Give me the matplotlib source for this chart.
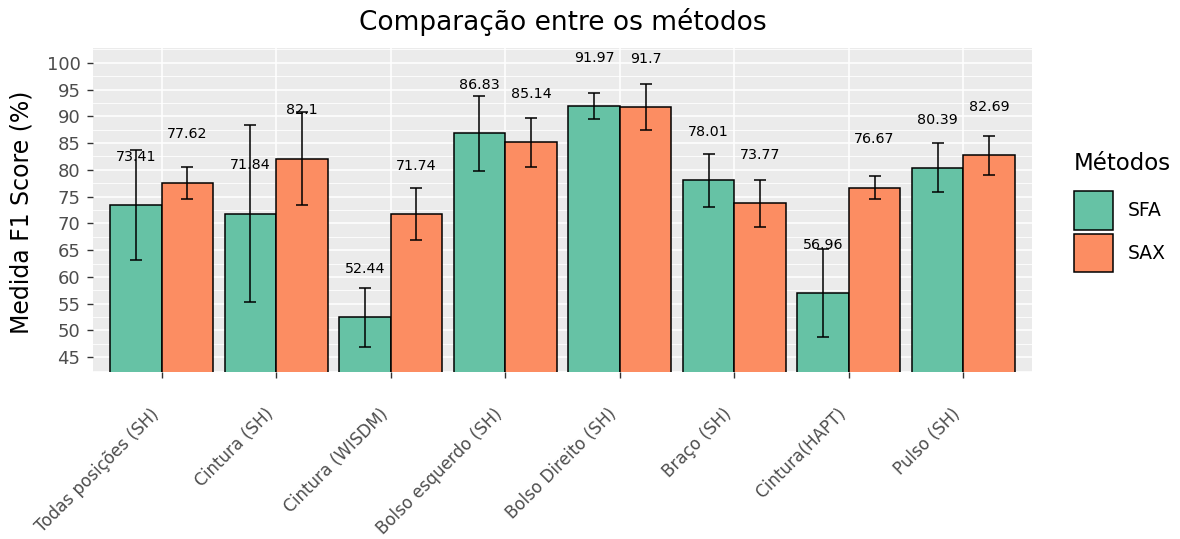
import numpy as np
import matplotlib
matplotlib.use("Agg")
import matplotlib.pyplot as plt
from matplotlib.patches import Patch
from matplotlib.ticker import MultipleLocator
from matplotlib.transforms import ScaledTranslation

# dados
categorias = ["Todas posições (SH)", "Cintura (SH)", "Cintura (WISDM)",
              "Bolso esquerdo (SH)", "Bolso Direito (SH)", "Braço (SH)",
              "Cintura(HAPT)", "Pulso (SH)"]
metodos = ["SFA", "SAX"]
sfa = [73.41, 71.84, 52.44, 86.83, 91.97, 78.01, 56.96, 80.39]
sax = [77.62, 82.1, 71.74, 85.14, 91.7, 73.77, 76.67, 82.69]
sfa_sd = [10.3, 16.6, 5.5, 7.0, 2.4, 4.9, 8.2, 4.6]
sax_sd = [3.0, 8.7, 4.8, 4.6, 4.3, 4.4, 2.2, 3.6]

cores = ["#66C2A5", "#FC8D62"]

plt.rcParams['font.family'] = ['DejaVu Sans']

fig = plt.figure(figsize=(11.8, 5.39), dpi=100)
ax = fig.add_axes([93/1180, 1-372/539, 939/1180, 324/539])
ax.set_facecolor("#EBEBEB")

x = np.arange(len(categorias))
w = 0.45
for i, (vals, sds) in enumerate([(sfa, sfa_sd), (sax, sax_sd)]):
    pos = x + (i - 0.5) * w
    ax.bar(pos, vals, width=w, color=cores[i], edgecolor="black", linewidth=1.1, zorder=3)
    ax.errorbar(pos, vals, yerr=sds, fmt="none", ecolor="black", elinewidth=1.1,
                capsize=4.5, capthick=1.1, zorder=4)
    for p, v in zip(pos, vals):
        ax.text(p, v + 9, f"{v:g}", ha="center", va="center", fontsize=10.3,
                color="black", zorder=5)

ax.set_xlim(-0.6, len(categorias) - 0.4)
ax.set_ylim(42.25, 102.75)
ax.yaxis.set_major_locator(MultipleLocator(5))
ax.yaxis.set_minor_locator(MultipleLocator(2.5))
ax.set_yticks(np.arange(45, 101, 5))
ax.set_xticks(x)
ax.set_xticklabels([])

# rotulos do eixo x desenhados a mao, deslocados como no ggplot
desloc = ScaledTranslation(-0.12, -0.33, fig.dpi_scale_trans)
for xi, nome in zip(x, categorias):
    ax.text(xi, 0, nome, transform=ax.get_xaxis_transform() + desloc,
            rotation=45, ha="right", va="top", rotation_mode="anchor",
            fontsize=12.1, color="#4D4D4D", clip_on=False)

ax.tick_params(axis="y", labelsize=13, labelcolor="#4D4D4D", color="#333333",
               length=4, width=1.0, pad=5)
ax.tick_params(axis="x", color="#333333", length=4, width=1.0, pad=4)
ax.tick_params(axis="y", which="minor", length=0)

ax.grid(True, which="major", color="white", linewidth=1.1, zorder=0)
ax.grid(True, which="minor", axis="y", color="white", linewidth=0.6, zorder=0)
ax.set_axisbelow(True)
for s in ax.spines.values():
    s.set_visible(False)

fig.text(563/1180, 1-22/539, "Comparação entre os métodos", ha="center",
         va="center", fontsize=19)
fig.text(22/1180, 1-212/539, "Medida F1 Score (%)", rotation=90, ha="center",
         va="center", fontsize=17)

handles = [Patch(facecolor=c, edgecolor="black", linewidth=1.1) for c in cores]
leg = fig.legend(handles, metodos, title="Métodos", loc="upper left",
                 bbox_to_anchor=(1066/1180, 1-144/539), frameon=False,
                 fontsize=13.5, title_fontsize=16.5, handlelength=2.1,
                 handleheight=2.8, labelspacing=0.2, handletextpad=0.8,
                 alignment="left", borderaxespad=0.0)
leg._legend_box.sep = 12

fig.savefig("out.png", dpi=100)
